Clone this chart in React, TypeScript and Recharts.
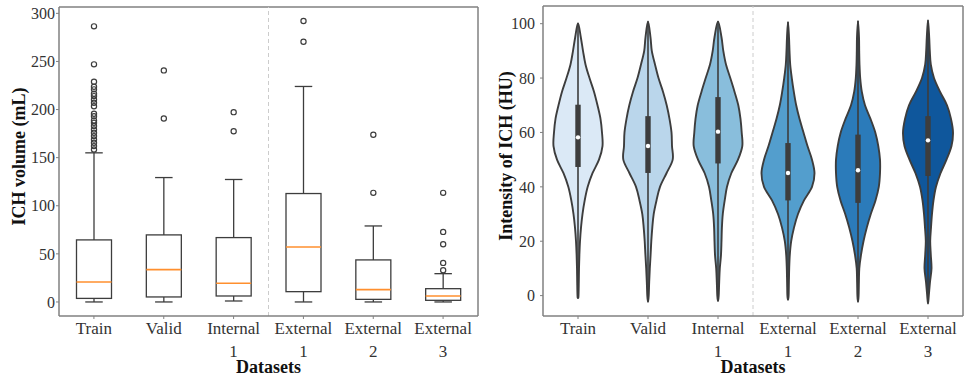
import React from "react";
import { ComposedChart, Bar, XAxis, YAxis, ReferenceLine } from "recharts";

const categories = ["Train", "Valid", "Internal 1", "External 1", "External 2", "External 3"];

// ICH volume (mL) box plot
const volWhiskerLow = [0, 0, 1, 0, 0, 0];
const volQ1 = [3.7, 5.2, 6.2, 10.7, 2.7, 1.7];
const volMedian = [20.8, 33.6, 19.4, 57.2, 12.8, 6.2];
const volQ3 = [64.5, 69.7, 66.9, 112.7, 43.7, 13.8];
const volWhiskerHigh = [155, 129.3, 127.3, 224, 79, 29.4];
const volOutliers = [
  [158.5, 162, 165.5, 168.9, 172.4, 175.9, 179.3, 183, 186.2, 188.7, 193, 195.6, 203.5, 207, 210.5, 214, 216.4, 221, 223.7, 229, 247, 286.5],
  [190.7, 240.7],
  [177.5, 197.3],
  [270.5, 292],
  [113.4, 173.8],
  [32.9, 40.6, 60, 72.8, 113.4],
];
const volTicks = [0, 50, 100, 150, 200, 250, 300];
const volDomain = [-14.6, 306.6];

// Intensity of ICH (HU) violin plot
const huLevels = [95, 90, 85, 80, 75, 70, 65, 60, 55, 50, 45, 40, 35, 30, 25, 20, 15, 10, 5, 0];
const huDensity = [
  [2.8, 5, 7.5, 11.5, 16, 19.5, 22.5, 24, 24.5, 21, 14.5, 9.7, 6.7, 4.5, 3, 2, 1.4, 1, 0.8, 0.5],
  [2.5, 3.8, 7, 10.5, 15, 18.7, 21.5, 23.5, 24, 24.7, 18.5, 12, 8.5, 5.7, 4.3, 3.3, 2.6, 1.8, 1.2, 0.7],
  [3.5, 5.3, 8, 12.3, 16.5, 20.3, 22.5, 23.7, 24.3, 20, 13.3, 9, 6.7, 4.8, 3.9, 3.5, 3, 1.8, 1.2, 0.7],
  [1, 1.5, 2.2, 3.8, 5.8, 8.2, 11.5, 15.5, 19.5, 24, 26.5, 24, 16, 10, 6, 3.2, 1.8, 1.2, 0.9, 0.6],
  [1, 1.2, 1.5, 2.2, 3.8, 7, 12.5, 17.3, 20.3, 22, 22, 20.8, 17.5, 12.8, 8.8, 5.5, 3, 1.3, 0.9, 0.6],
  [1.2, 1.8, 2.8, 6, 12, 19, 23, 25, 23.5, 18.5, 12.5, 8, 5.5, 4, 3, 2.2, 2.8, 3.5, 2, 0.8],
];
const huMin = [-0.9, -2.3, -2, -1.5, -2.3, -2.9];
const huMax = [100.2, 100.8, 100.8, 100.6, 101, 101.3];
const huQ1 = [47.3, 45.1, 48.6, 35, 34.1, 44];
const huMedian = [58.2, 55, 60.3, 45.1, 46.1, 57.1];
const huQ3 = [70.2, 66, 73, 56.1, 59.2, 66];
const huTicks = [0, 20, 40, 60, 80, 100];
const huDomain = [-7.5, 106.5];

const boxData = categories.map((name, i) => ({
  name,
  lo: volWhiskerLow[i],
  q1: volQ1[i],
  med: volMedian[i],
  q3: volQ3[i],
  hi: volWhiskerHigh[i],
  outliers: volOutliers[i],
}));

const violinData = categories.map((name, i) => ({
  name,
  min: huMin[i],
  max: huMax[i],
  q1: huQ1[i],
  med: huMedian[i],
  q3: huQ3[i],
  dens: huDensity[i],
}));

const FONT = '"Liberation Serif", "Times New Roman", Times, serif';
const FRAME = "#808080";
const TEXT = "#333333";
const INK = "#3d3d3d";
const MEDIAN = "#ff8f2e";
const BLUES = ["#dbe9f6", "#bad6eb", "#89bedc", "#539ecd", "#2b7bba", "#0f579c"];
const DENSITY_FULL = 28; // density that fills 0.4 of a band

function CategoryTick({ x, y, payload }: any) {
  const lines = String(payload.value).split(" ");
  return (
    <text x={x} y={y} textAnchor="middle" fill={TEXT} fontSize={17} fontFamily={FONT}>
      {lines.map((line, i) => (
        <tspan key={i} x={x} dy={i === 0 ? "0.68em" : 23.5}>
          {line}
        </tspan>
      ))}
    </text>
  );
}

const yTitle = (text: string, bx: number, cy: number) => () => (
  <text
    x={bx}
    y={cy}
    transform={`rotate(-90, ${bx}, ${cy})`}
    textAnchor="middle"
    fontSize={18}
    fontWeight="bold"
    fontFamily={FONT}
    fill="#111"
  >
    {text}
  </text>
);

const xTitle = (text: string, cx: number, by: number) => () => (
  <text x={cx} y={by} textAnchor="middle" fontSize={18} fontWeight="bold" fontFamily={FONT} fill="#111">
    {text}
  </text>
);

function BoxShape(props: any) {
  const { x, y, width, height, payload: d } = props;
  if (!d) return null;
  const py = (v: number) => y + ((d.hi - v) / (d.hi - d.lo)) * height;
  const cx = x + width / 2;
  const half = width * 0.25;
  const cap = width * 0.125;
  return (
    <g>
      <line x1={cx} x2={cx} y1={py(d.hi)} y2={py(d.q3)} stroke={INK} strokeWidth={1.3} />
      <line x1={cx} x2={cx} y1={py(d.q1)} y2={py(d.lo)} stroke={INK} strokeWidth={1.3} />
      <line x1={cx - cap} x2={cx + cap} y1={py(d.hi)} y2={py(d.hi)} stroke={INK} strokeWidth={1.3} />
      <line x1={cx - cap} x2={cx + cap} y1={py(d.lo)} y2={py(d.lo)} stroke={INK} strokeWidth={1.3} />
      <rect
        x={cx - half}
        y={py(d.q3)}
        width={half * 2}
        height={py(d.q1) - py(d.q3)}
        fill="none"
        stroke={INK}
        strokeWidth={1.3}
      />
      <line x1={cx - half} x2={cx + half} y1={py(d.med)} y2={py(d.med)} stroke={MEDIAN} strokeWidth={1.6} />
      {d.outliers.map((v: number, i: number) => (
        <circle key={i} cx={cx} cy={py(v)} r={2.6} fill="none" stroke={INK} strokeWidth={1.2} />
      ))}
    </g>
  );
}

function closedCurve(pts: number[][]) {
  const n = pts.length;
  let s = `M${pts[0][0]},${pts[0][1]}`;
  for (let i = 0; i < n; i++) {
    const p0 = pts[(i - 1 + n) % n];
    const p1 = pts[i];
    const p2 = pts[(i + 1) % n];
    const p3 = pts[(i + 2) % n];
    const c1x = p1[0] + (p2[0] - p0[0]) / 6;
    const c1y = p1[1] + (p2[1] - p0[1]) / 6;
    const c2x = p2[0] - (p3[0] - p1[0]) / 6;
    const c2y = p2[1] - (p3[1] - p1[1]) / 6;
    s += ` C${c1x},${c1y} ${c2x},${c2y} ${p2[0]},${p2[1]}`;
  }
  return s + "Z";
}

function ViolinShape(props: any) {
  const { x, y, width, height, payload: d, index } = props;
  if (!d) return null;
  const py = (v: number) => y + ((d.max - v) / (d.max - d.min)) * height;
  const cx = x + width / 2;
  const k = (width * 0.4) / DENSITY_FULL;
  const side: number[][] = [[0, d.max]];
  huLevels.forEach((v, j) => {
    if (v < d.max && v > d.min) side.push([d.dens[j], v]);
  });
  side.push([0, d.min]);
  const right = side.map(([w, v]) => [cx + w * k, py(v)]);
  const left = side
    .slice(1, -1)
    .reverse()
    .map(([w, v]) => [cx - w * k, py(v)]);
  const path = closedCurve([...right, ...left]);
  const bw = 2.7;
  return (
    <g>
      <path d={path} fill={BLUES[index]} stroke={INK} strokeWidth={1.9} strokeLinejoin="round" />
      <line x1={cx} x2={cx} y1={py(d.max)} y2={py(d.min)} stroke={INK} strokeWidth={1.6} />
      <rect x={cx - bw} y={py(d.q3)} width={bw * 2} height={py(d.q1) - py(d.q3)} fill={INK} />
      <circle cx={cx} cy={py(d.med)} r={2.2} fill="#fff" />
    </g>
  );
}

const frameLine = { stroke: FRAME, strokeWidth: 1.5 };

export default function App() {
  return (
    <div style={{ position: "absolute", left: 0, top: 0, width: 972, height: 378, background: "#fff" }}>
      <div style={{ position: "absolute", left: 0, top: 0 }}>
        <ComposedChart
          width={490}
          height={378}
          data={boxData}
          margin={{ top: 7, right: 12, bottom: 0, left: 0 }}
          barCategoryGap={0}
          barGap={0}
        >
          <XAxis
            dataKey="name"
            type="category"
            interval={0}
            height={62}
            axisLine={frameLine}
            tickLine={{ stroke: FRAME }}
            tickSize={3}
            tickMargin={3}
            tick={<CategoryTick />}
            label={xTitle("Datasets", 268.5, 373)}
          />
          <YAxis
            type="number"
            domain={volDomain}
            ticks={volTicks}
            interval={0}
            allowDataOverflow
            width={59}
            axisLine={frameLine}
            tickLine={{ stroke: FRAME }}
            tickSize={3}
            tickMargin={1}
            tick={{ fill: TEXT, fontSize: 16, fontFamily: FONT }}
            label={yTitle("ICH volume (mL)", 24.5, 156.5)}
          />
          <ReferenceLine y={volDomain[1]} stroke={FRAME} strokeWidth={1.5} ifOverflow="visible" />
          <ReferenceLine x="External 3" position="end" stroke={FRAME} strokeWidth={1.5} ifOverflow="visible" />
          <ReferenceLine
            x="External 1"
            position="start"
            stroke="#cccccc"
            strokeDasharray="4 3"
            strokeWidth={1}
          />
          <Bar dataKey={(d: any) => [d.lo, d.hi]} shape={<BoxShape />} isAnimationActive={false} />
        </ComposedChart>
      </div>
      <div style={{ position: "absolute", left: 490, top: 0 }}>
        <ComposedChart
          width={482}
          height={378}
          data={violinData}
          margin={{ top: 6, right: 9, bottom: 0, left: 0 }}
          barCategoryGap={0}
          barGap={0}
        >
          <XAxis
            dataKey="name"
            type="category"
            interval={0}
            height={62}
            axisLine={frameLine}
            tickLine={{ stroke: FRAME }}
            tickSize={3}
            tickMargin={3}
            tick={<CategoryTick />}
            label={xTitle("Datasets", 263, 373)}
          />
          <YAxis
            type="number"
            domain={huDomain}
            ticks={huTicks}
            interval={0}
            allowDataOverflow
            width={53}
            axisLine={frameLine}
            tickLine={{ stroke: FRAME }}
            tickSize={3}
            tickMargin={5}
            tick={{ fill: TEXT, fontSize: 16, fontFamily: FONT }}
            label={yTitle("Intensity of ICH (HU)", 21.5, 156)}
          />
          <ReferenceLine y={huDomain[1]} stroke={FRAME} strokeWidth={1.5} ifOverflow="visible" />
          <ReferenceLine x="External 3" position="end" stroke={FRAME} strokeWidth={1.5} ifOverflow="visible" />
          <ReferenceLine
            x="External 1"
            position="start"
            stroke="#cccccc"
            strokeDasharray="4 3"
            strokeWidth={1}
          />
          <Bar dataKey={(d: any) => [d.min, d.max]} shape={<ViolinShape />} isAnimationActive={false} />
        </ComposedChart>
      </div>
    </div>
  );
}
